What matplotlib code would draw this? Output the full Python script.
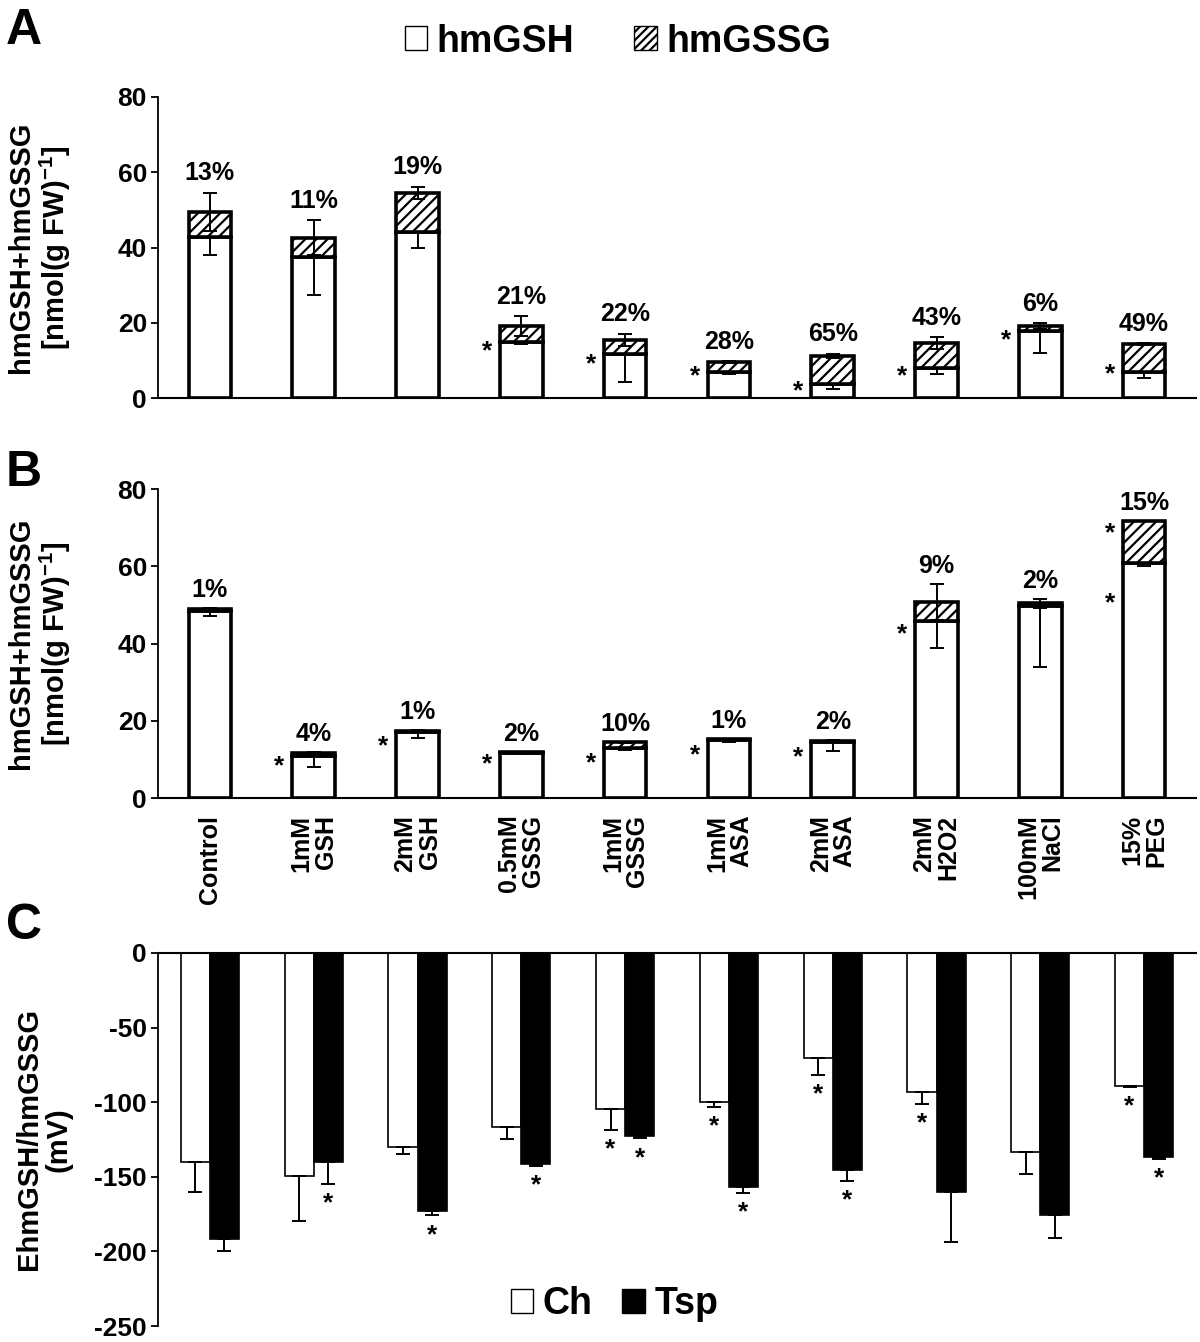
import numpy as np
import matplotlib
matplotlib.use('Agg')
import matplotlib.pyplot as plt
from matplotlib.patches import Patch

plt.rcParams['font.family'] = ['Liberation Sans', 'DejaVu Sans']
plt.rcParams['font.weight'] = 'bold'
plt.rcParams['axes.labelweight'] = 'bold'
plt.rcParams['axes.unicode_minus'] = False
plt.rcParams['mathtext.fontset'] = 'custom'
plt.rcParams['mathtext.rm'] = 'Liberation Sans:bold'
plt.rcParams['mathtext.bf'] = 'Liberation Sans:bold'
plt.rcParams['hatch.linewidth'] = 1.6

treatments = ['Control', '1mM\nGSH', '2mM\nGSH', '0.5mM\nGSSG', '1mM\nGSSG',
              '1mM\nASA', '2mM\nASA', '2mM\nH2O2', '100mM\nNaCl', '15%\nPEG']

# panel A - Ch
a_gsh = [42.9, 37.4, 44.0, 14.8, 11.7, 6.8, 3.8, 7.9, 17.9, 6.9]
a_gssg = [6.6, 5.2, 10.6, 4.3, 3.7, 2.8, 7.4, 6.7, 1.2, 7.4]
a_gsh_err = [4.8, 10.1, 4.0, 0.4, 7.4, 0.5, 1.4, 1.5, 6.0, 1.6]
a_tot_err = [5.1, 4.6, 1.6, 2.6, 1.6, 0.2, 0.5, 1.5, 0.8, 0.2]
a_pct = ['13%', '11%', '19%', '21%', '22%', '28%', '65%', '43%', '6%', '49%']
a_star_y = [[], [], [], [12.5], [9.0], [5.8], [1.7], [5.8], [15.4], [6.3]]

# panel B - Tsp
b_gsh = [48.5, 11.0, 17.2, 11.7, 13.0, 15.0, 14.5, 45.9, 49.7, 60.8]
b_gssg = [0.5, 0.6, 0.2, 0.2, 1.4, 0.2, 0.3, 4.8, 0.7, 10.9]
b_gsh_err = [1.5, 2.9, 1.7, 0.2, 0.5, 0.5, 2.3, 7.0, 15.7, 0.7]
b_tot_err = [0.2, 0.3, 0.2, 0.1, 0.2, 0.1, 0.2, 4.7, 1.1, 0.1]
b_pct = ['1%', '4%', '1%', '2%', '10%', '1%', '2%', '9%', '2%', '15%']
b_star_y = [[], [8.1], [13.3], [8.6], [9.0], [11.0], [10.6], [42.3], [], [68.6, 50.4]]

# panel C - redox potential
c_ch = [-140.3, -149.6, -129.8, -116.7, -104.6, -100.0, -70.6, -93.2, -133.5, -89.4]
c_ch_err = [20.2, 30.2, 4.8, 8.1, 13.8, 3.0, 11.4, 8.1, 14.9, 0.6]
c_tsp = [-191.7, -140.1, -173.2, -141.6, -122.6, -156.8, -145.2, -160.5, -175.9, -136.8]
c_tsp_err = [8.3, 14.5, 2.7, 1.4, 1.7, 4.1, 7.6, 33.3, 15.3, 1.1]
c_ch_sig = [0, 0, 0, 0, 1, 1, 1, 1, 0, 1]
c_tsp_sig = [0, 1, 1, 1, 1, 1, 1, 0, 0, 1]

x = np.arange(len(treatments))
W, H = 1200, 1342
fig = plt.figure(figsize=(W / 100, H / 100), dpi=100)


def frac(left, top, right, bottom):
    return [left / W, 1 - bottom / H, (right - left) / W, (bottom - top) / H]


def style_axis(ax):
    for s in ['top', 'right']:
        ax.spines[s].set_visible(False)
    ax.spines['left'].set_linewidth(1.3)
    ax.spines['bottom'].set_linewidth(1.5)
    ax.tick_params(axis='y', labelsize=19, length=5, width=1.3, pad=3)
    ax.set_xlim(-0.5, 9.5)


def stacked(ax, gsh, gssg, gsh_err, tot_err, pct, star_y, off):
    gsh = np.array(gsh)
    tot = gsh + np.array(gssg)
    ax.bar(x, gsh, 0.41, color='white', edgecolor='black', linewidth=2.6, zorder=2)
    ax.bar(x, gssg, 0.41, bottom=gsh, color='white', edgecolor='black',
           hatch='///', linewidth=2.6, zorder=2)
    ax.errorbar(x, gsh, yerr=[gsh_err, np.zeros(len(x))], fmt='none', ecolor='black',
                elinewidth=1.4, capsize=5, capthick=1.4, zorder=3)
    ax.errorbar(x, tot, yerr=tot_err, fmt='none', ecolor='black',
                elinewidth=1.4, capsize=5, capthick=1.4, zorder=3)
    for i in range(len(x)):
        ax.text(x[i], tot[i] + tot_err[i] + off, pct[i], ha='center', va='center',
                fontsize=18)
        for sy in star_y[i]:
            ax.text(x[i] - 0.33, sy, '*', ha='center', va='center', fontsize=19)
    ax.set_ylim(0, 80)
    ax.set_yticks([0, 20, 40, 60, 80])
    ax.set_ylabel('hmGSH+hmGSSG\n[nmol(g FW)$^{-1}$]', fontsize=21, linespacing=1.1)
    ax.yaxis.set_label_coords(-0.082, 0.5)


# A
axA = fig.add_axes(frac(158, 97, 1196, 398))
style_axis(axA)
stacked(axA, a_gsh, a_gssg, a_gsh_err, a_tot_err, a_pct, a_star_y, 5.2)
axA.set_xticks([])

# B
axB = fig.add_axes(frac(158, 489, 1196, 798))
style_axis(axB)
stacked(axB, b_gsh, b_gssg, b_gsh_err, b_tot_err, b_pct, b_star_y, 4.6)
axB.set_xticks(x)
axB.set_xticklabels(treatments, rotation=90, fontsize=18, ha='center', va='top',
                    multialignment='right', linespacing=1.0)
axB.tick_params(axis='x', length=0, pad=12)

# C
axC = fig.add_axes(frac(158, 953, 1196, 1326))
style_axis(axC)
axC.spines['bottom'].set_visible(False)
axC.spines['top'].set_visible(True)
axC.spines['top'].set_linewidth(1.5)
bw = 0.28
axC.bar(x - bw / 2, c_ch, bw, color='white', edgecolor='black', linewidth=1.2, zorder=2)
axC.bar(x + bw / 2, c_tsp, bw, color='black', edgecolor='black', linewidth=1.2, zorder=2)
zeros = np.zeros(len(x))
axC.errorbar(x - bw / 2, c_ch, yerr=[c_ch_err, zeros], fmt='none', ecolor='black',
             elinewidth=1.4, capsize=5, capthick=1.4, zorder=3)
axC.errorbar(x + bw / 2, c_tsp, yerr=[c_tsp_err, zeros], fmt='none', ecolor='black',
             elinewidth=1.4, capsize=5, capthick=1.4, zorder=3)
for i in range(len(x)):
    if c_ch_sig[i]:
        axC.text(x[i] - bw / 2, c_ch[i] - c_ch_err[i] - 13, '*', ha='center',
                 va='center', fontsize=19)
    if c_tsp_sig[i]:
        axC.text(x[i] + bw / 2, c_tsp[i] - c_tsp_err[i] - 13, '*', ha='center',
                 va='center', fontsize=19)
axC.set_ylim(-250, 0)
axC.set_yticks([0, -50, -100, -150, -200, -250])
axC.set_xticks([])
axC.set_ylabel('EhmGSH/hmGSSG\n(mV)', fontsize=21, linespacing=1.1)
axC.yaxis.set_label_coords(-0.082, 0.5)

# legends
fig.legend(handles=[Patch(facecolor='white', edgecolor='black', linewidth=1),
                    Patch(facecolor='white', edgecolor='black', hatch='////', linewidth=1)],
           labels=['hmGSH', 'hmGSSG'], loc='center', bbox_to_anchor=(0.515, 0.969),
           ncol=2, frameon=False, fontsize=27, handlelength=0.6, handleheight=0.6,
           handletextpad=0.25, columnspacing=1.6)
fig.legend(handles=[Patch(facecolor='white', edgecolor='black', linewidth=1),
                    Patch(facecolor='black', edgecolor='black', linewidth=1)],
           labels=['Ch', 'Tsp'], loc='center', bbox_to_anchor=(0.512, 0.028),
           ncol=2, frameon=False, fontsize=27, handlelength=0.6, handleheight=0.6,
           handletextpad=0.25, columnspacing=0.8)

# panel letters
for lbl, yy in [('A', 8), ('B', 450), ('C', 903)]:
    fig.text(6 / W, 1 - yy / H, lbl, fontsize=36, ha='left', va='top')

fig.savefig('out.png', dpi=100)
